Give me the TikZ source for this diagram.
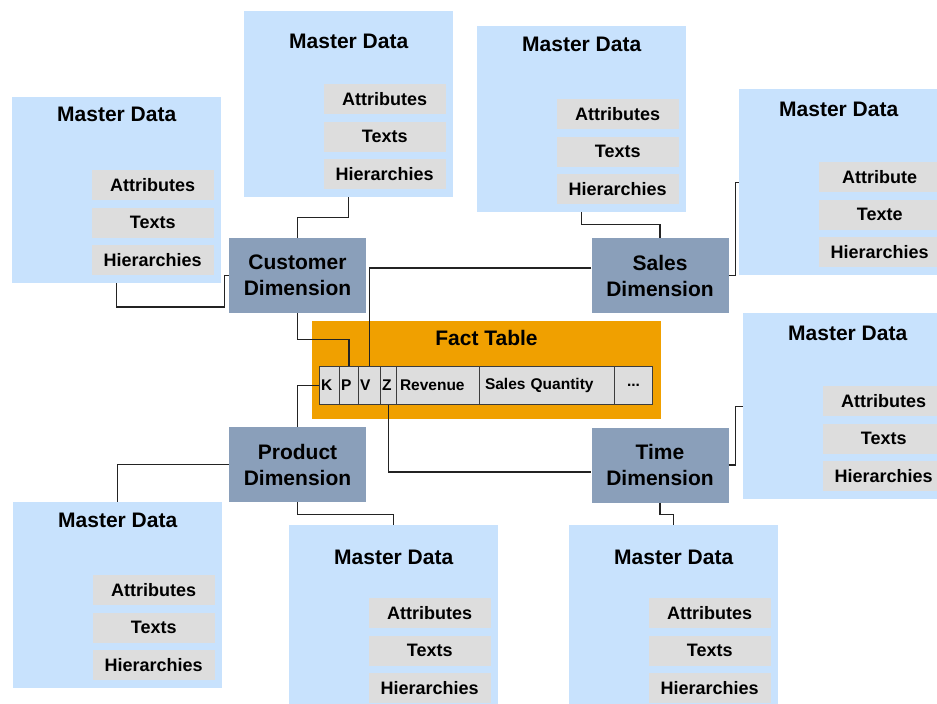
\documentclass[tikz,border=0pt]{standalone}
\usepackage{fontspec}
\setmainfont{Liberation Sans}
\usetikzlibrary{calc}

\definecolor{mdblue}{RGB}{200,226,253}
\definecolor{itemgray}{RGB}{221,221,221}
\definecolor{dimblue}{RGB}{138,159,186}
\definecolor{factorange}{RGB}{240,160,0}
\definecolor{wire}{RGB}{35,35,35}
\definecolor{cellline}{RGB}{60,60,60}

\begin{document}
\begin{tikzpicture}[x=1pt,y=-1pt,
  mdbox/.style={fill=mdblue, draw=none, minimum width=209pt, minimum height=186pt,
    anchor=north west, inner sep=0pt},
  mdtitle/.style={font=\fontsize{21}{24}\selectfont\bfseries, inner sep=0pt},
  mditem/.style={fill=itemgray, minimum width=122pt, minimum height=30pt,
    anchor=north west, inner sep=0pt, font=\fontsize{18}{20}\selectfont\bfseries},
  dimbox/.style={fill=dimblue, minimum width=137pt, minimum height=75pt, inner sep=0pt,
    align=center, font=\fontsize{21}{26}\selectfont\bfseries},
  factbox/.style={fill=factorange, minimum width=349pt, minimum height=98pt,
    anchor=north west, inner sep=0pt},
  facttitle/.style={font=\fontsize{21}{24}\selectfont\bfseries, inner sep=0pt},
  cell/.style={fill=itemgray, draw=cellline, line width=1pt, minimum height=38pt,
    anchor=north west, inner ysep=0pt, inner xsep=1.5pt, align=left,
    text width=#1pt-3pt, font=\fontsize{15.5}{18}\selectfont\bfseries},
  wirepath/.style={draw=wire, line width=1.2pt}]

\useasboundingbox (0,0) rectangle (937,704);
\clip (0,0) rectangle (937,704);

% master data groups: name / left / top / title x shift / title y offset / first two items
\foreach \n/\px/\py/\tx/\ty/\ia/\ib in {
  1/12/97/0/17/Attributes/Texts,
  2/244/11/0/30/Attributes/Texts,
  3/477/26/0/18/Attributes/Texts,
  4/739/89/-5/20/Attribute/Texte,
  5/743/313/0/20/Attributes/Texts,
  6/13/502/0/18/Attributes/Texts,
  7/289/525/0/32/Attributes/Texts,
  8/569/525/0/32/Attributes/Texts}
{
  \node[mdbox] (md\n) at (\px,\py) {};
  \node[mdtitle] (md\n-title) at ($(md\n.north)+(\tx,\ty)$) {Master Data};
  \node[mditem] (md\n-a) at ($(md\n.north west)+(79.5,73)$) {\ia};
  \node[mditem] (md\n-b) at ($(md\n.north west)+(79.5,110.5)$) {\ib};
  \node[mditem] (md\n-c) at ($(md\n.north west)+(79.5,148)$) {Hierarchies};
}

% dimensions
\node[dimbox] (cust)  at (297.5,275.5) {Customer\\Dimension};
\node[dimbox] (sales) at (660,275.5)   {Sales\\Dimension};
\node[dimbox] (prod)  at (297.5,464.5) {Product\\Dimension};
\node[dimbox] (time)  at (660,465)     {Time\\Dimension};

% fact table with its key and key figure columns
\node[factbox] (fact) at (312,321) {};
\node[facttitle] (fact-title) at (486.5,338) {Fact Table};
\node[cell=20]  (cK)   at (319,366) {K};
\node[cell=19]  (cP)   at (339,366) {P};
\node[cell=22]  (cV)   at (358,366) {V};
\node[cell=16]  (cZ)   at (380,366) {Z};
\node[cell=83]  (cRev) at (396,366) {\hspace{2pt}Revenue};
\node[cell=135] (cQty) at (479,366) {\hspace{4pt}Sales Quantity};
\node[cell=38, align=center] (cMore) at (614,366) {...};

% connectors
\draw[wirepath] (md1.south) |- ([xshift=-4pt,yshift=-31.5pt]cust.west) |- (cust.west);
\draw[wirepath] (md2.south) -- ++(0,20) -| (cust.north);
\draw[wirepath] (cust.south) -- ++(0,26) -| (cP.north);
\draw[wirepath] ([yshift=7.5pt]sales.west) -| (cV.north);
\draw[wirepath] (md3.south) -- ++(0,12) -| (sales.north);
\draw[wirepath] (sales.east) -- ++(7,0) |- (md4.west);
\draw[wirepath] (prod.north) |- (cK.west);
\draw[wirepath] (prod.west) -| (md6.north);
\draw[wirepath] (prod.south) -- ++(0,12) -| (md7.north);
\draw[wirepath] (cZ.south) |- ([yshift=-7pt]time.west);
\draw[wirepath] (time.east) -- ++(7,0) |- (md5.west);
\draw[wirepath] (time.south) -- ++(0,12) -| (md8.north);
\end{tikzpicture}
\end{document}
